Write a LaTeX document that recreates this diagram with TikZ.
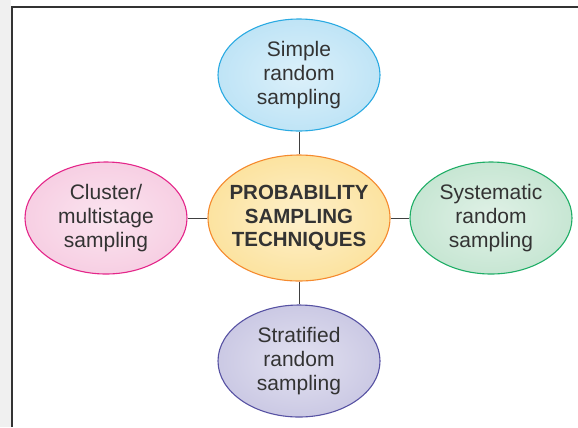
\documentclass[tikz,border=0pt]{standalone}
\usepackage{fontspec}
\setmainfont{Liberation Sans}
\usepackage{tikz}
\usetikzlibrary{shapes.geometric}

\definecolor{txt}{HTML}{333333}
\definecolor{bluefill}{HTML}{BFE4F6}
\definecolor{blueline}{HTML}{2AAAE2}
\definecolor{orangefill}{HTML}{FCE3A0}
\definecolor{orangeline}{HTML}{F58A2E}
\definecolor{pinkfill}{HTML}{F7CFE3}
\definecolor{pinkline}{HTML}{E4268A}
\definecolor{greenfill}{HTML}{C7E6D3}
\definecolor{greenline}{HTML}{1FAE66}
\definecolor{violetfill}{HTML}{CBC9E4}
\definecolor{violetline}{HTML}{5752A3}

\begin{document}
\begin{tikzpicture}[x=1bp, y=-1bp, node distance={143bp},
  main/.style = {ellipse, draw, line width=1.1bp, minimum width=162bp, minimum height=112bp,
    inner sep=0pt, align=center, text=txt, font=\fontsize{21bp}{24bp}\selectfont},
  hub/.style = {main, minimum width=182bp, minimum height=126bp, inner xsep=-6bp,
    font=\fontsize{20.5bp}{23.5bp}\selectfont\bfseries},
  tint/.style 2 args = {draw=#2, inner color=white!45!#1, outer color=#1}]
\useasboundingbox (0,0) rectangle (578,427);

% page edge and frame
\fill[black!6] (0,0) rectangle (11,427);
\draw[line width=1.6bp, black!80] (12,427) -- (12,7) -- (578,7);

\node[hub, tint={orangefill}{orangeline}] (1) at (299,218) {PROBABILITY\\SAMPLING\\TECHNIQUES};
\node[main, tint={bluefill}{blueline}] (2) [above of=1]{Simple\\random\\sampling};
\node[main, tint={violetfill}{violetline}] (3) [below of=1]{Stratified\\random\\sampling};
\node[main, tint={pinkfill}{pinkline}, node distance={193bp}] (4) [left of=1]{Cluster/\\multistage\\sampling};
\node[main, tint={greenfill}{greenline}, node distance={192bp}] (5) [right of=1]{Systematic\\random\\sampling};

\draw[black!75, line width=0.9bp] (1)--(2); \draw[black!75, line width=0.9bp] (1)--(3);
\draw[black!75, line width=0.9bp] (1)--(4); \draw[black!75, line width=0.9bp] (1)--(5);

\end{tikzpicture}
\end{document}
